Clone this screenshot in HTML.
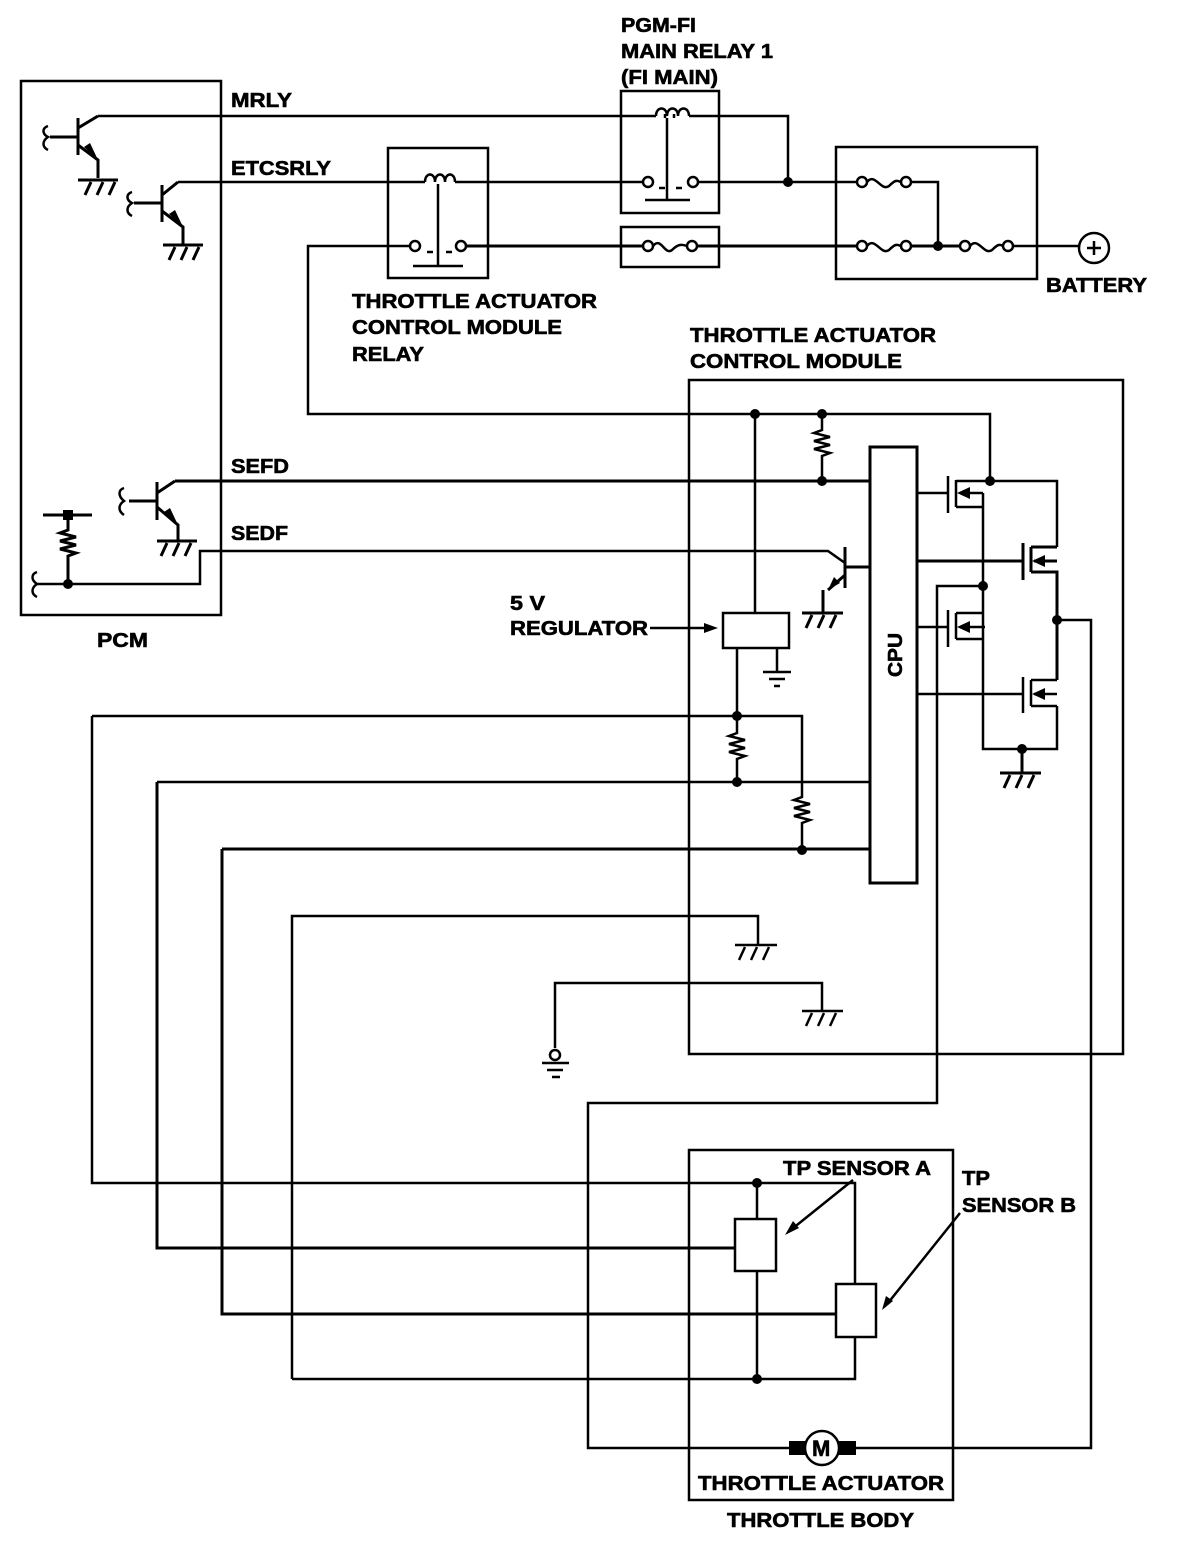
<!DOCTYPE html>
<html><head><meta charset="utf-8"><style>
html,body{margin:0;padding:0;background:#fff}
svg{display:block}
text{font-family:"Liberation Sans",Arial,sans-serif;font-weight:bold;font-size:20px;fill:#000;stroke:#000;stroke-width:0.6}
</style></head><body>
<svg width="1184" height="1546" viewBox="0 0 1184 1546" xmlns="http://www.w3.org/2000/svg">
<g fill="none" stroke="#000" stroke-width="2.5" stroke-linejoin="miter">
<rect x="21" y="81" width="200" height="534"/>
<rect x="621" y="91" width="98" height="122"/>
<rect x="388" y="148" width="100" height="130"/>
<rect x="621" y="227" width="98" height="40"/>
<rect x="836" y="147" width="201" height="132"/>
<rect x="689" y="380" width="434" height="674"/>
<rect x="870" y="447" width="47" height="436" stroke-width="3"/>
<rect x="689" y="1150" width="264" height="350"/>
<rect x="723" y="613" width="66" height="35"/>
<rect x="735" y="1219" width="41" height="52"/>
<rect x="836" y="1284" width="40" height="53"/>

<polyline points="98,116 656,116"/>
<polyline points="689,116 788,116 788,182"/>
<path d="M656,116 c0,-10 11,-10 11,0 c0,-10 11,-10 11,0 c0,-10 11,-10 11,0"/>
<path d="M665,118 v-4 M674,118 v-4"/>
<line x1="667" y1="118" x2="667" y2="200"/>
<line x1="645" y1="200" x2="690" y2="200"/>
<circle cx="648" cy="182" r="5"/><circle cx="693" cy="182" r="5"/>
<path d="M659,188 h6 M676,188 h6"/>
<polyline points="178,182 425,182"/>
<path d="M425,182 c0,-10 10,-10 10,0 c0,-10 10,-10 10,0 c0,-10 10,-10 10,0"/>
<polyline points="455,182 643,182"/>
<polyline points="698,182 857,182"/>
<line x1="438" y1="184" x2="438" y2="266"/>
<line x1="413" y1="266" x2="463" y2="266"/>
<circle cx="415" cy="246" r="5"/><circle cx="461" cy="246" r="5"/>
<path d="M427,252 h6 M446,252 h6"/>
<polyline points="410,246 308,246 308,414 990,414 990,481"/>
<polyline points="466,246 643,246" stroke-width="3"/>
<circle cx="648" cy="246" r="5"/><circle cx="692" cy="246" r="5"/>
<path d="M653,246 c8,-10 12,10 19,4 c6,-6 10,-6 15,-4"/>
<polyline points="697,246 857,246" stroke-width="3"/>
<circle cx="862" cy="182" r="5"/><circle cx="906" cy="182" r="5"/>
<path d="M867,182 c8,-10 14,10 22,4 c6,-6 8,-6 12,-4"/>
<polyline points="911,182 938,182 938,246"/>
<circle cx="862" cy="246" r="5"/><circle cx="906" cy="246" r="5"/>
<path d="M867,246 c8,-10 14,10 22,4 c6,-6 8,-6 12,-4"/>
<line x1="911" y1="246" x2="960" y2="246" stroke-width="3"/>
<circle cx="965" cy="246" r="5"/><circle cx="1008" cy="246" r="5"/>
<path d="M970,246 c8,-10 14,10 22,4 c6,-6 8,-6 11,-4"/>
<line x1="1013" y1="246" x2="1079" y2="246"/>
<circle cx="1094" cy="248" r="15"/>
<path d="M1087,248 h14 M1094,241 v14"/>

<path d="M78,118 v37 M50,137 h28 M78,128 L98,116 M78,145 L98,160 V178 M78,180 h40" stroke-width="3"/>
<path d="M48,126 c-6,2 -6,8 0,11 c-6,4 -6,10 0,13"/>
<path d="M85,195 l6,-13 M97,195 l6,-13 M109,195 l6,-13" stroke-width="3"/>
<path d="M162,185 v37 M134,203 h28 M162,195 L178,182 M162,211 L183,227 V245 M163,245 h40" stroke-width="3"/>
<path d="M132,192 c-6,2 -6,8 0,11 c-6,4 -6,10 0,13"/>
<path d="M169,260 l6,-13 M181,260 l6,-13 M193,260 l6,-13" stroke-width="3"/>
<path d="M157,482 v38 M129,501 h28 M157,493 L175,481 M157,507 L178,525 V540 M157,541 h40" stroke-width="3"/>
<path d="M124,488 c-6,2 -6,8 0,13 c-6,4 -6,10 0,14"/>
<path d="M161,556 l6,-13 M173,556 l6,-13 M185,556 l6,-13" stroke-width="3"/>
<path d="M43,515 h49 M68,515 V530 l-8,3 l16,4 l-16,4 l16,4 l-16,4 l16,4 l-8,3 V584" stroke-width="3"/>
<path d="M35,584 H200 V551 H828 L845,563"/>
<path d="M37,572 c-6,2 -6,8 0,12 c-6,4 -6,10 0,13"/>
<path d="M175,481 H870" stroke-width="3"/>
<path d="M822,414 V430 l-8,3 l16,4 l-16,4 l16,4 l-16,4 l16,4 l-8,3 V481"/>
<path d="M755,414 V613 M777,648 V672 M763,672 h28 M769,679 h16 M774,686 h6"/>
<path d="M650,628 H706"/>
<path d="M845,547 v41 M845,567 H870 M845,575 L828,590 M823,590 V612 M802,613 h41" stroke-width="3"/>
<path d="M806,628 l6,-13 M818,628 l6,-13 M830,628 l6,-13" stroke-width="3"/>
<path d="M737,648 V716 M737,716 V733 l-8,3 l16,4 l-16,4 l16,4 l-16,4 l16,4 l-8,3 V782"/>
<path d="M92,716 H802 V797 l-8,3 l16,4 l-16,4 l16,4 l-16,4 l16,4 l-8,3 V849"/>
<path d="M157,782 H870"/>
<path d="M222,849 H870" stroke-width="3"/>
<path d="M917,493 H948 M948,476 V513 M956,480 V507 M956,481 H1057 V547 M956,507 H983 M960,493 H983 M983,493 V749 H1057 V706 M1031,706 H1057"/>
<path d="M917,561 H1023 M1023,543 V580 M1031,547 V572 M1031,547 H1057 M1031,572 H1057 V680 M1034,561 H1057" stroke-width="3"/>
<path d="M917,627 H948 M948,610 V647 M956,613 V639 M956,613 H983 M956,639 H983 M960,627 H985"/>
<path d="M917,694 H1023 M1023,677 V713 M1031,680 V706 M1031,680 H1057 M1034,694 H1057"/>
<path d="M983,586 H937 V1103 H588 V1448 H790 M855,1448 H1091 V620 H1057"/>
<path d="M1022,749 V773 M1000,773 h41 M1004,788 l6,-13 M1016,788 l6,-13 M1028,788 l6,-13" stroke-width="3"/>
<path d="M292,1379 V916 H758 V945 M735,945 h42 M739,960 l6,-13 M751,960 l6,-13 M763,960 l6,-13"/>
<path d="M555,1048 V983 H822 V1011 M802,1011 h41 M806,1026 l6,-13 M818,1026 l6,-13 M830,1026 l6,-13"/>
<circle cx="555" cy="1055" r="5"/>
<path d="M542,1063 h27 M547,1070 h16 M552,1077 h8"/>
<path d="M92,716 V1183 H855 V1284 M855,1337 V1379 H292"/>
<path d="M157,782 V1248 H735" stroke-width="3"/>
<path d="M222,849 V1314 H836" stroke-width="3"/>
<path d="M757,1183 V1219 M757,1271 V1379"/>
<path d="M853,1180 L792,1229 M960,1213 L888,1303"/>
<circle cx="822" cy="1448" r="17"/>
</g>
<g stroke="none" fill="#000">
<circle cx="788" cy="182" r="5"/><circle cx="938" cy="246" r="5"/>
<circle cx="68" cy="584" r="5"/><rect x="63" y="510" width="10" height="10"/>
<circle cx="755" cy="414" r="5"/><circle cx="822" cy="414" r="5"/><circle cx="822" cy="481" r="5"/>
<circle cx="990" cy="481" r="5"/><circle cx="983" cy="586" r="5"/><circle cx="1057" cy="620" r="5"/>
<circle cx="1022" cy="749" r="5"/>
<circle cx="737" cy="716" r="5"/><circle cx="737" cy="782" r="5"/><circle cx="802" cy="850" r="5"/>
<circle cx="757" cy="1183" r="5"/><circle cx="757" cy="1379" r="5"/>
<rect x="789" y="1441" width="17" height="14"/><rect x="839" y="1441" width="17" height="14"/>
<polygon points="98,160 84,147 90,143"/>
<polygon points="183,227 169,214 175,210"/>
<polygon points="178,525 164,512 170,508"/>
<polygon points="828,590 834,577 840,583"/>
<polygon points="718,628 704,623 704,633"/>
<polygon points="957,493 970,487 970,499"/>
<polygon points="1032,561 1045,555 1045,567"/>
<polygon points="957,627 970,621 970,633"/>
<polygon points="1032,694 1045,688 1045,700"/>
<polygon points="785,1235 793,1221 799,1228"/>
<polygon points="882,1310 886,1296 893,1301"/>
</g>
<text x="231" y="107" textLength="61" lengthAdjust="spacingAndGlyphs">MRLY</text>
<text x="231" y="175" textLength="100" lengthAdjust="spacingAndGlyphs">ETCSRLY</text>
<text x="231" y="473" textLength="58" lengthAdjust="spacingAndGlyphs">SEFD</text>
<text x="231" y="540" textLength="57" lengthAdjust="spacingAndGlyphs">SEDF</text>
<text x="97" y="647" textLength="51" lengthAdjust="spacingAndGlyphs">PCM</text>
<text x="621" y="32" textLength="75" lengthAdjust="spacingAndGlyphs">PGM-FI</text>
<text x="621" y="58" textLength="152" lengthAdjust="spacingAndGlyphs">MAIN RELAY 1</text>
<text x="621" y="84" textLength="97" lengthAdjust="spacingAndGlyphs">(FI MAIN)</text>
<text x="352" y="308" textLength="245" lengthAdjust="spacingAndGlyphs">THROTTLE ACTUATOR</text>
<text x="352" y="334" textLength="210" lengthAdjust="spacingAndGlyphs">CONTROL MODULE</text>
<text x="352" y="361" textLength="72" lengthAdjust="spacingAndGlyphs">RELAY</text>
<text x="690" y="342" textLength="246" lengthAdjust="spacingAndGlyphs">THROTTLE ACTUATOR</text>
<text x="690" y="368" textLength="212" lengthAdjust="spacingAndGlyphs">CONTROL MODULE</text>
<text x="1046" y="292" textLength="101" lengthAdjust="spacingAndGlyphs">BATTERY</text>
<text x="510" y="610" textLength="35" lengthAdjust="spacingAndGlyphs">5 V</text>
<text x="510" y="635" textLength="138" lengthAdjust="spacingAndGlyphs">REGULATOR</text>
<text x="902" y="655" transform="rotate(-90 902 655)" text-anchor="middle" textLength="44" lengthAdjust="spacingAndGlyphs">CPU</text>
<text x="783" y="1175" textLength="148" lengthAdjust="spacingAndGlyphs">TP SENSOR A</text>
<text x="962" y="1185" textLength="28" lengthAdjust="spacingAndGlyphs">TP</text>
<text x="962" y="1212" textLength="114" lengthAdjust="spacingAndGlyphs">SENSOR B</text>
<text x="812" y="1456" style="font-size:22px">M</text>
<text x="698" y="1490" textLength="246" lengthAdjust="spacingAndGlyphs">THROTTLE ACTUATOR</text>
<text x="727" y="1527" textLength="187" lengthAdjust="spacingAndGlyphs">THROTTLE BODY</text>
</svg>
</body></html>
